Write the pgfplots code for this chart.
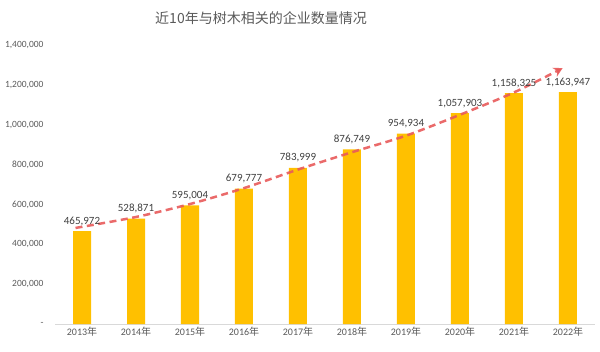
\documentclass[border=0pt]{standalone}
\usepackage{pgfplots}
\pgfplotsset{compat=1.18}
\usepackage{fontspec}
\setmainfont{Carlito}
\newfontfamily\cjk{Noto Sans CJK SC}
\usetikzlibrary{arrows.meta}
\definecolor{bargold}{HTML}{FFC000}
\definecolor{txtgrey}{HTML}{595959}
\definecolor{lblgrey}{HTML}{404040}
\definecolor{axgrey}{HTML}{D9D9D9}
\definecolor{trendred}{RGB}{232,90,90}
\begin{document}
\begin{tikzpicture}[x=1pt,y=1pt]
\path (0,0) rectangle (600,351);
\node[text=txtgrey, font=\cjk\fontsize{14}{17}\selectfont] at (261,333) {近10年与树木相关的企业数量情况};
\begin{axis}[
  at={(55pt,27pt)}, anchor=south west,
  scale only axis, width=540pt, height=279pt,
  xmin=-0.5, xmax=9.5, ymin=0, ymax=1400000,
  axis y line=none, axis x line*=bottom,
  x axis line style={axgrey, line width=0.8pt, -},
  xtick={0,...,9},
  xticklabels={2013{\cjk 年},2014{\cjk 年},2015{\cjk 年},2016{\cjk 年},2017{\cjk 年},2018{\cjk 年},2019{\cjk 年},2020{\cjk 年},2021{\cjk 年},2022{\cjk 年}},
  xticklabel style={text=txtgrey, font=\fontsize{10}{12}\selectfont},
  major tick length=0pt,
  clip=false,
]
\addplot[ybar, bar width=18pt, fill=bargold, draw=none,
  nodes near coords={\pgfmathprintnumber[fixed, precision=0, 1000 sep={,}, assume math mode=true]{\pgfplotspointmeta}},
  nodes near coords style={text=lblgrey, font=\fontsize{11}{13}\selectfont, anchor=south, yshift=2pt}]
  coordinates {(0,465972) (1,528871) (2,595004) (3,679777) (4,783999) (5,876749) (6,954934) (7,1057903) (8,1158325) (9,1163947)};
\addplot[smooth, draw=trendred, draw opacity=0.9, line width=2.5pt, dash pattern=on 7pt off 4.5pt, -{Stealth[length=9pt,width=10pt]}]
  coordinates {(-0.12,482000) (1,537000) (2,602000) (3,682000) (4,775000) (5,862000) (6,945000) (7,1050000) (8,1162000) (8.9,1284000)};
\end{axis}
% y tick labels
\foreach \i/\t in {0/{-},1/{200,000},2/{400,000},3/{600,000},4/{800,000},5/{1,000,000},6/{1,200,000},7/{1,400,000}}{
  \node[anchor=east, text=txtgrey, font=\fontsize{9.5}{11}\selectfont] at (47, {27+\i*39.857}) {\t};
}
\end{tikzpicture}
\end{document}
